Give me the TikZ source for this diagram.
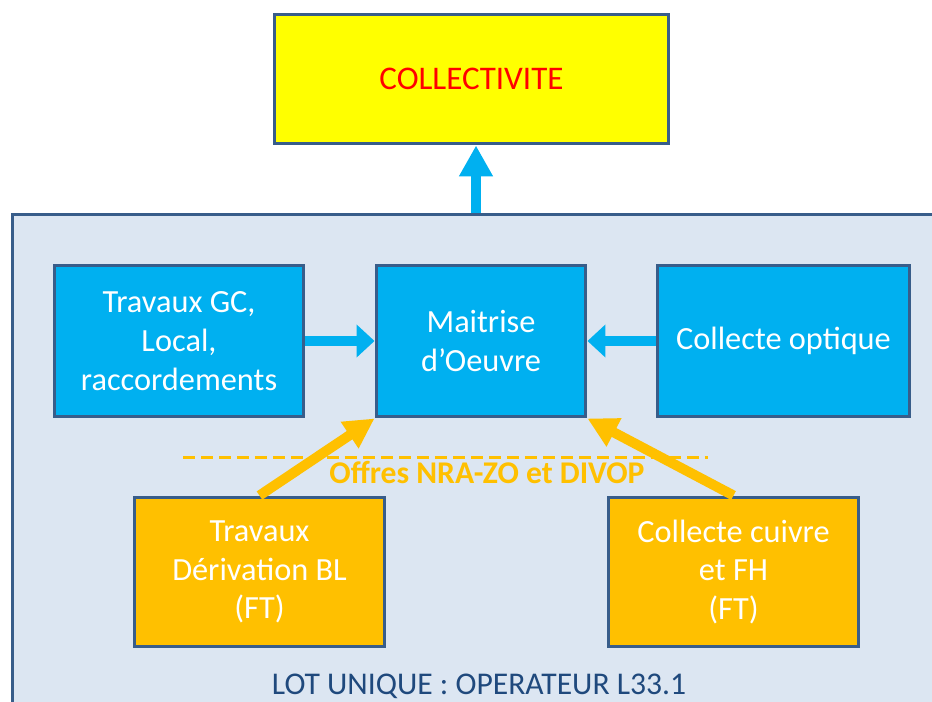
\documentclass[tikz,border=0pt]{standalone}
\usepackage{fontspec}
\setmainfont{Carlito}
\usepackage{xcolor}
\usetikzlibrary{arrows.meta}
\definecolor{borderblue}{HTML}{385D8A}
\definecolor{lotfill}{HTML}{DCE6F2}
\definecolor{cyanfill}{HTML}{00B0F0}
\definecolor{orangefill}{HTML}{FFC000}
\definecolor{collfill}{HTML}{FFFF00}
\definecolor{colltext}{HTML}{FF0000}
\definecolor{lottext}{HTML}{1F497D}
\tikzstyle{box} = [draw=borderblue, line width=0.06cm, inner sep=0pt, align=center, text=white, font=\fontsize{18.4}{22}\selectfont]
\tikzstyle{cyanbox} = [box, fill=cyanfill, minimum height=3.04cm]
\tikzstyle{orangebox} = [box, fill=orangefill, minimum width=5.02cm, minimum height=3cm]
\tikzstyle{bluearrow} = [cyanfill, line width=0.22cm, -{Triangle[width=0.64cm,length=0.36cm]}]
\tikzstyle{uparrow} = [cyanfill, line width=0.19cm, -{Triangle[width=0.64cm,length=0.62cm]}]
\tikzstyle{orangearrow} = [orangefill, line width=0.2cm, -{Triangle[width=0.6cm,length=0.6cm]}]

\begin{document}
\begin{tikzpicture}[x=0.02cm, y=-0.02cm]
        \useasboundingbox (0,0) rectangle (932,702);
        \clip (0,0) rectangle (932,702);

        % Lot frame
        \node[draw=borderblue, fill=lotfill, line width=0.06cm, minimum width=18.96cm, minimum height=10.32cm] (lot) at (486,472) {};
        \node[text=lottext, font=\fontsize{18}{21}\selectfont] (lotlabel) at (479,686) {LOT UNIQUE : OPERATEUR L33.1};

        % Offres line
        \coordinate (offl) at (183,457);
        \coordinate (offr) at (708,457);
        \draw[orangefill, line width=0.06cm, dash pattern=on 0.24cm off 0.12cm] (offl) -- (offr);
        \node[text=orangefill, font=\bfseries\fontsize{18}{21}\selectfont] (offres) at (487,473) {Offres NRA-ZO et DIVOP};

        % Boxes
        \node[box, fill=collfill, text=colltext, font=\fontsize{18.8}{22}\selectfont, minimum width=7.9cm, minimum height=2.6cm] (coll) at (471.5,79) {COLLECTIVITE};
        \node[cyanbox, minimum width=5cm] (gc) at (179,341) {Travaux GC,\\Local,\\raccordements};
        \node[cyanbox, minimum width=4.2cm] (moe) at (481,341) {Maitrise\\d'Oeuvre};
        \node[cyanbox, minimum width=5.06cm] (optique) at (783.5,341) {Collecte optique};
        \node[orangebox] (deriv) at (259.5,572) {Travaux\\Dérivation BL\\(FT)};
        \node[orangebox] (cuivre) at (733.5,572) {Collecte cuivre\\et FH\\(FT)};

        % Draw Arrows
        \draw[uparrow] ([xshift=0.09cm]coll.south |- lot.north) -- ([xshift=0.09cm]coll.south);
        \draw[bluearrow] (gc.east) -- (moe.west);
        \draw[bluearrow] (optique.west) -- (moe.east);
        \draw[orangearrow] (deriv.north) -- (moe.south west);
        \draw[orangearrow] (cuivre.north) -- (moe.south east);

\end{tikzpicture}
\end{document}
